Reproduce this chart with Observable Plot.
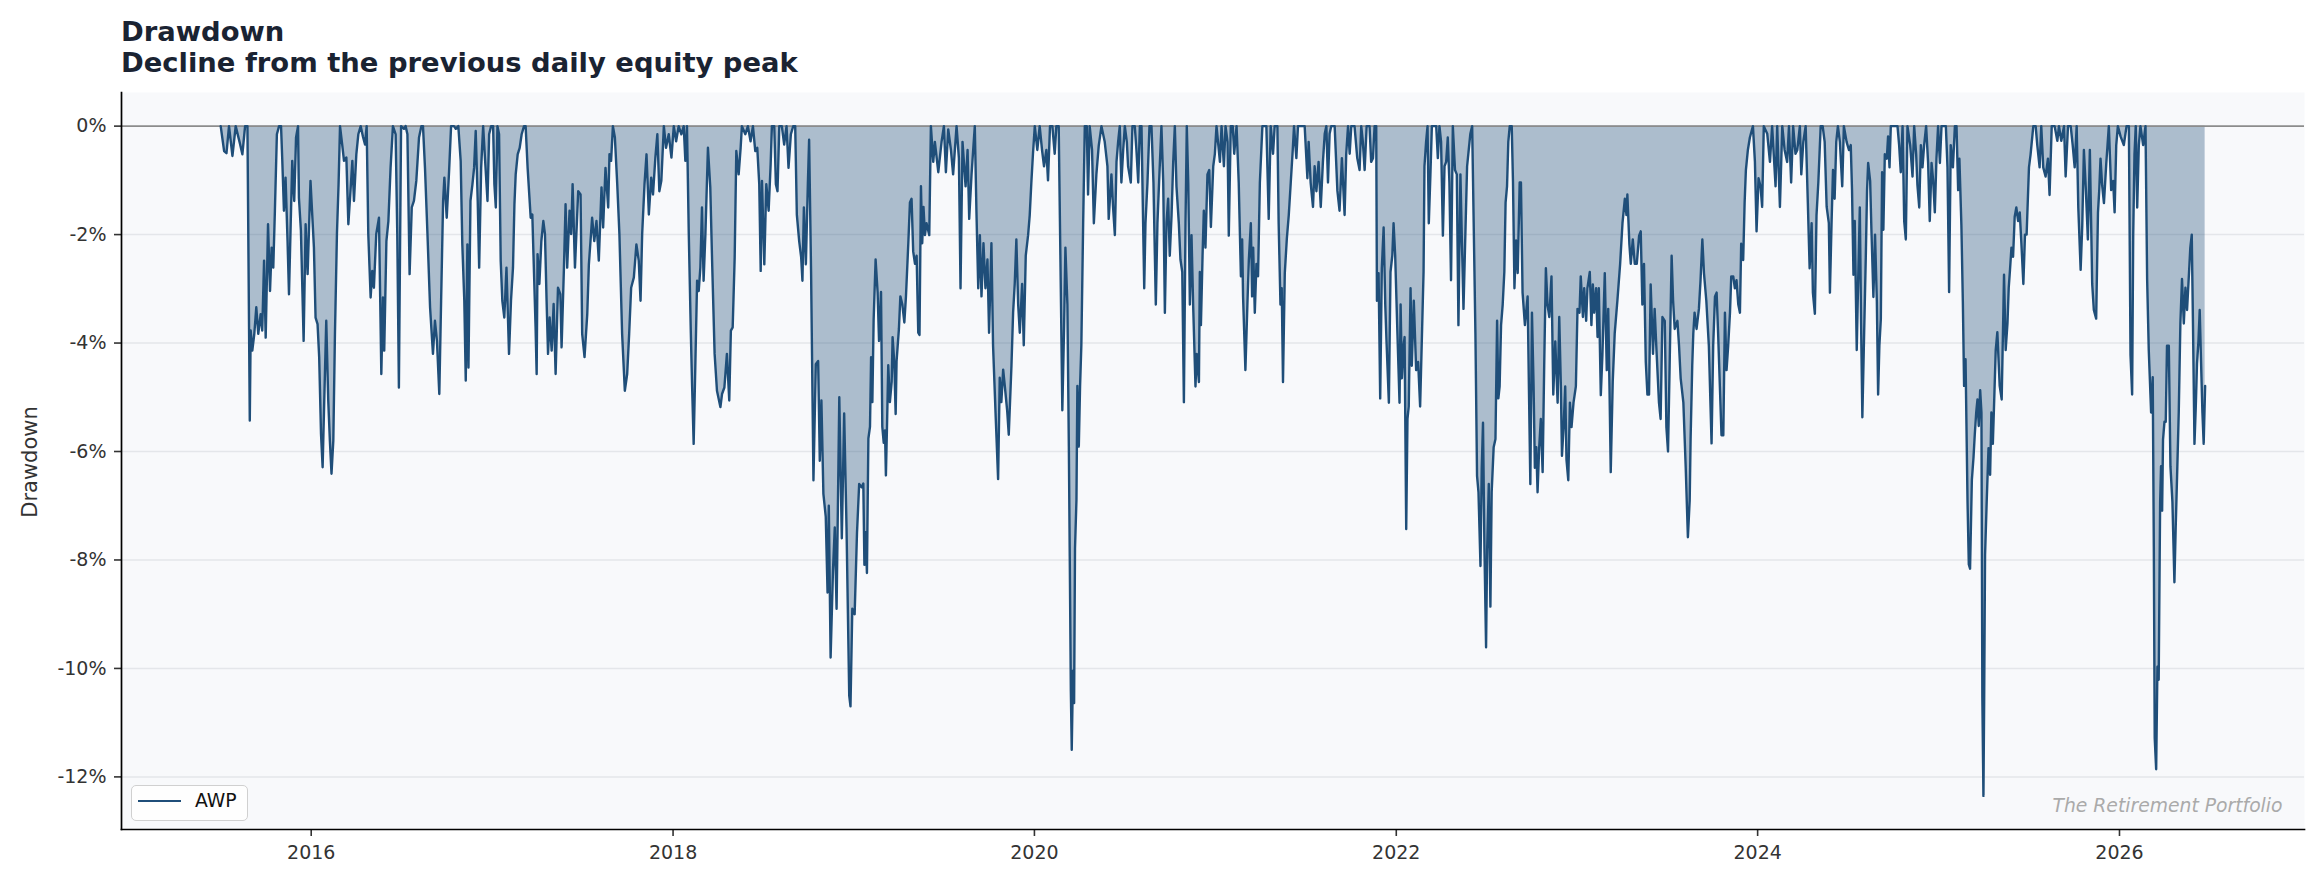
<!DOCTYPE html>
<html>
<head>
<meta charset="utf-8">
<script src="https://cdn.jsdelivr.net/npm/d3@7"></script>
<script src="https://cdn.jsdelivr.net/npm/@observablehq/plot@0.6"></script>
<style>
  html, body { margin: 0; padding: 0; background: #ffffff; }
  body { font-family: "DejaVu Sans", sans-serif; }
  #wrap { position: relative; width: 2321px; height: 884px; overflow: hidden; }
  #titles { position: relative; height: 80px; box-sizing: border-box; padding-top: 16px; padding-left: 121px;
            font-weight: bold; font-size: 27.4px; line-height: 31px; color: #1a2332; white-space: nowrap; }
  #ylabel { position: absolute; left: 30px; top: 462px; transform: translate(-50%, -50%) rotate(-90deg);
            font-size: 21px; color: #333333; white-space: nowrap; }
  #legend { position: absolute; left: 131px; top: 785px; width: 117px; height: 36px; box-sizing: border-box;
            border: 1.5px solid #d0d0d0; border-radius: 5px; background: rgba(255,255,255,0.8); }
  #legend .swatch { position: absolute; left: 6px; top: 13.5px; width: 43px; height: 2.6px; background: #1f4e79; }
  #legend .lbl { position: absolute; left: 63px; top: 5.6px; font-size: 18.75px; line-height: 18.75px; color: #111; }
</style>
</head>
<body>
<div id="wrap">
  <div id="titles">Drawdown<br>Decline from the previous daily equity peak</div>
  <div id="chart"></div>
  <div id="ylabel">Drawdown</div>
  <div id="legend"><div class="swatch"></div><span class="lbl">AWP</span></div>
</div>
<script>
// Drawdown readings: [decimal year, drawdown %]
const p2015 = [[2015.499,0],[2015.518,-0.46],[2015.531,-0.5],[2015.545,0],[2015.564,-0.55],[2015.582,0],[2015.604,-0.3],[2015.619,-0.52],[2015.634,0],[2015.647,0],[2015.656,-3.77],[2015.660,-5.43],[2015.665,-3.77],[2015.674,-4.14],[2015.685,-3.83],[2015.696,-3.34],[2015.707,-3.83],[2015.720,-3.47],[2015.729,-3.77],[2015.739,-2.48],[2015.748,-3.90],[2015.761,-1.81],[2015.772,-3.04],[2015.781,-2.24],[2015.790,-2.61],[2015.799,-1.56],[2015.810,-0.15],[2015.822,0],[2015.833,0],[2015.840,-0.64],[2015.849,-1.56],[2015.858,-0.95],[2015.869,-2.12],[2015.877,-3.10],[2015.886,-1.87],[2015.895,-0.64],[2015.906,-1.38],[2015.916,-0.21],[2015.927,0],[2015.932,-1.32],[2015.943,-1.93],[2015.958,-3.96],[2015.969,-1.81],[2015.980,-2.73],[2015.996,-1.01]];
const p2016 = [[2016.015,-2.24],[2016.024,-3.53],[2016.035,-3.65],[2016.044,-4.26],[2016.054,-5.67],[2016.063,-6.29],[2016.072,-5.06],[2016.083,-3.59],[2016.094,-5.06],[2016.103,-5.80],[2016.112,-6.41],[2016.122,-5.80],[2016.131,-3.83],[2016.142,-1.99],[2016.151,-1.07],[2016.159,0],[2016.171,-0.34],[2016.181,-0.64],[2016.194,-0.58],[2016.205,-1.81],[2016.218,-1.13],[2016.227,-0.64],[2016.236,-1.38],[2016.249,-0.52],[2016.260,-0.15],[2016.273,0],[2016.286,-0.2],[2016.297,-0.34],[2016.306,0],[2016.315,-1.99],[2016.328,-3.16],[2016.337,-2.67],[2016.346,-2.98],[2016.359,-1.99],[2016.374,-1.69],[2016.387,-4.57],[2016.396,-3.16],[2016.403,-4.14],[2016.415,-2.12],[2016.426,-1.75],[2016.438,-0.77],[2016.451,0],[2016.466,-0.15],[2016.475,-1.99],[2016.484,-4.82],[2016.496,0],[2016.512,-0.05],[2016.521,0],[2016.531,-0.15],[2016.543,-2.73],[2016.555,-1.50],[2016.567,-1.38],[2016.580,-1.01],[2016.595,-0.21],[2016.608,0],[2016.617,0],[2016.628,-0.77],[2016.641,-1.93],[2016.656,-3.34],[2016.672,-4.20],[2016.683,-3.59],[2016.694,-3.96],[2016.707,-4.94],[2016.717,-3.22],[2016.728,-1.38],[2016.735,-0.95],[2016.748,-1.69],[2016.761,-0.83],[2016.772,0],[2016.788,0],[2016.798,-0.05],[2016.812,0],[2016.825,-0.64],[2016.834,-2.18],[2016.845,-3.22],[2016.853,-4.69],[2016.862,-2.18],[2016.868,-4.45],[2016.879,-1.38],[2016.890,-1.07],[2016.899,-0.77],[2016.908,-0.09],[2016.919,-1.38],[2016.927,-2.61],[2016.938,-0.77],[2016.949,0],[2016.960,-0.64],[2016.973,-1.38],[2016.982,-0.15],[2016.993,0]];
const p2017 = [[2017.004,0],[2017.011,-1.07],[2017.019,-1.50],[2017.028,0],[2017.037,-0.15],[2017.046,-2.48],[2017.055,-3.22],[2017.066,-3.53],[2017.078,-2.61],[2017.092,-4.20],[2017.103,-3.22],[2017.114,-2.61],[2017.122,-1.44],[2017.129,-0.89],[2017.140,-0.52],[2017.151,-0.40],[2017.162,-0.15],[2017.175,0],[2017.184,0],[2017.195,-0.77],[2017.212,-1.69],[2017.221,-1.63],[2017.239,-3.71],[2017.245,-4.57],[2017.250,-2.36],[2017.260,-2.91],[2017.271,-2.12],[2017.282,-1.75],[2017.291,-1.99],[2017.300,-3.22],[2017.308,-4.20],[2017.317,-3.53],[2017.328,-4.14],[2017.339,-3.28],[2017.350,-4.57],[2017.363,-2.98],[2017.376,-3.10],[2017.383,-4.08],[2017.396,-2.61],[2017.405,-1.44],[2017.414,-2.61],[2017.427,-1.56],[2017.436,-1.99],[2017.444,-1.07],[2017.457,-2.61],[2017.475,-1.20],[2017.488,-1.26],[2017.497,-3.83],[2017.510,-4.26],[2017.525,-3.47],[2017.534,-2.55],[2017.552,-1.69],[2017.564,-2.12],[2017.576,-1.75],[2017.589,-2.48],[2017.604,-1.13],[2017.613,-1.87],[2017.626,-0.77],[2017.641,-1.50],[2017.648,-0.52],[2017.657,-0.64],[2017.667,0],[2017.678,-0.21],[2017.691,-1.07],[2017.703,-1.99],[2017.718,-3.83],[2017.733,-4.88],[2017.746,-4.57],[2017.757,-3.83],[2017.768,-2.98],[2017.783,-2.79],[2017.797,-2.18],[2017.810,-2.48],[2017.820,-3.22],[2017.829,-1.99],[2017.842,-1.07],[2017.853,-0.52],[2017.866,-1.63],[2017.879,-0.95],[2017.889,-1.26],[2017.902,-0.58],[2017.913,-0.15],[2017.924,-1.20],[2017.935,-1.01],[2017.949,0],[2017.961,-0.40],[2017.976,-0.15],[2017.991,-0.58]];
const p2018 = [[2018.004,0],[2018.017,-0.28],[2018.031,0],[2018.046,-0.15],[2018.059,0],[2018.068,-0.64],[2018.077,0],[2018.087,-1.99],[2018.098,-3.77],[2018.105,-4.75],[2018.114,-5.86],[2018.123,-4.45],[2018.133,-2.85],[2018.142,-3.04],[2018.151,-2.61],[2018.160,-1.50],[2018.169,-2.85],[2018.179,-1.99],[2018.193,-0.40],[2018.206,-1.13],[2018.216,-2.48],[2018.230,-4.20],[2018.243,-4.88],[2018.262,-5.18],[2018.271,-4.94],[2018.284,-4.82],[2018.298,-4.20],[2018.311,-5.06],[2018.320,-3.77],[2018.330,-3.71],[2018.341,-2.42],[2018.350,-0.46],[2018.363,-0.89],[2018.374,-0.40],[2018.381,0],[2018.400,-0.15],[2018.414,0],[2018.429,-0.28],[2018.442,0],[2018.455,-0.46],[2018.466,-0.40],[2018.477,-1.07],[2018.485,-2.67],[2018.492,-1.01],[2018.505,-2.55],[2018.516,-1.07],[2018.529,-1.56],[2018.540,-0.71],[2018.547,0],[2018.560,0],[2018.569,-1.07],[2018.578,-1.20],[2018.588,0],[2018.602,0],[2018.615,-0.34],[2018.628,0],[2018.639,-0.77],[2018.652,-0.15],[2018.665,0],[2018.676,0],[2018.685,-1.63],[2018.698,-2.12],[2018.709,-2.42],[2018.716,-2.85],[2018.724,-1.50],[2018.735,-2.55],[2018.746,-1.07],[2018.753,-0.25],[2018.764,-2.73],[2018.777,-6.53],[2018.790,-4.39],[2018.803,-4.33],[2018.812,-6.17],[2018.821,-5.06],[2018.832,-6.78],[2018.845,-7.2],[2018.855,-8.6],[2018.862,-7.0],[2018.872,-9.8],[2018.885,-8.2],[2018.895,-7.4],[2018.905,-8.9],[2018.920,-5.0],[2018.934,-7.6],[2018.947,-5.3],[2018.960,-7.4],[2018.975,-10.5],[2018.982,-10.7],[2018.992,-8.9]];
const p2019 = [[2019.005,-9.0],[2019.018,-7.5],[2019.030,-6.6],[2019.044,-6.66],[2019.053,-6.59],[2019.059,-8.09],[2019.066,-7.49],[2019.073,-8.24],[2019.081,-5.76],[2019.090,-5.54],[2019.096,-4.26],[2019.103,-5.09],[2019.110,-3.59],[2019.121,-2.46],[2019.132,-3.06],[2019.140,-3.96],[2019.151,-3.06],[2019.158,-5.54],[2019.166,-5.84],[2019.173,-5.61],[2019.178,-6.44],[2019.184,-5.54],[2019.191,-4.41],[2019.200,-5.09],[2019.210,-4.71],[2019.215,-3.89],[2019.224,-4.34],[2019.232,-5.31],[2019.237,-4.34],[2019.250,-3.74],[2019.258,-3.14],[2019.269,-3.29],[2019.280,-3.62],[2019.289,-3.14],[2019.302,-2.16],[2019.311,-1.41],[2019.320,-1.34],[2019.329,-2.31],[2019.339,-2.54],[2019.348,-2.39],[2019.357,-3.81],[2019.364,-3.85],[2019.372,-1.11],[2019.379,-2.16],[2019.386,-1.49],[2019.394,-2.01],[2019.403,-1.79],[2019.418,-2.01],[2019.427,0],[2019.440,-0.66],[2019.449,-0.29],[2019.468,-0.85],[2019.486,-0.29],[2019.499,0],[2019.510,-0.85],[2019.523,-0.06],[2019.538,-0.44],[2019.550,-0.89],[2019.569,0],[2019.582,-0.59],[2019.591,-2.99],[2019.602,-0.29],[2019.619,-1.11],[2019.630,-0.44],[2019.639,-1.71],[2019.652,-0.89],[2019.661,-0.44],[2019.670,0],[2019.679,-1.56],[2019.689,-2.99],[2019.698,-2.01],[2019.707,-3.14],[2019.718,-2.16],[2019.729,-2.99],[2019.740,-2.46],[2019.749,-3.81],[2019.762,-2.16],[2019.771,-4.04],[2019.786,-5.39],[2019.799,-6.51],[2019.808,-4.64],[2019.817,-5.09],[2019.827,-4.49],[2019.836,-4.79],[2019.849,-5.24],[2019.858,-5.69],[2019.873,-4.41],[2019.882,-3.44],[2019.891,-2.91],[2019.900,-2.09],[2019.910,-3.29],[2019.919,-3.81],[2019.932,-2.91],[2019.941,-4.04],[2019.952,-2.39],[2019.965,-2.01],[2019.974,-1.64],[2019.983,-1.04],[2019.992,-0.51]];
const p2020 = [[2020.002,0],[2020.016,-0.44],[2020.029,0],[2020.042,-0.44],[2020.053,-0.74],[2020.066,-0.44],[2020.075,-1.0],[2020.086,0],[2020.099,0],[2020.112,-0.51],[2020.121,0],[2020.134,0],[2020.145,-2.84],[2020.154,-5.24],[2020.164,-3.66],[2020.171,-2.24],[2020.182,-3.29],[2020.190,-5.91],[2020.195,-7.94],[2020.201,-10.41],[2020.206,-11.5],[2020.213,-10.04],[2020.219,-10.64],[2020.224,-7.79],[2020.232,-6.89],[2020.237,-4.79],[2020.245,-5.91],[2020.252,-4.79],[2020.259,-4.04],[2020.269,-1.79],[2020.278,0],[2020.289,0],[2020.296,-1.26],[2020.305,0],[2020.318,-0.44],[2020.328,-1.79],[2020.342,-0.89],[2020.355,-0.36],[2020.370,0],[2020.388,-0.29],[2020.403,-0.74],[2020.410,-1.71],[2020.425,-0.89],[2020.434,-1.49],[2020.444,-2.01],[2020.453,-0.66],[2020.462,-0.29],[2020.471,0],[2020.480,-1.04],[2020.490,-0.44],[2020.499,0],[2020.510,-0.29],[2020.517,-0.74],[2020.532,-1.04],[2020.541,0],[2020.554,0],[2020.563,-0.44],[2020.573,-1.04],[2020.582,0],[2020.591,0],[2020.598,-1.41],[2020.606,-2.99],[2020.613,-1.79],[2020.624,-1.04],[2020.635,0],[2020.646,0],[2020.657,-1.04],[2020.670,-3.29],[2020.679,-1.79],[2020.688,-1.04],[2020.701,0],[2020.711,-1.04],[2020.720,-3.44],[2020.729,-1.79],[2020.738,-1.34],[2020.747,-2.39],[2020.757,-1.64],[2020.766,-0.66],[2020.775,0],[2020.784,-1.11],[2020.797,-1.79],[2020.806,-2.46],[2020.816,-2.69],[2020.825,-5.09],[2020.834,-1.79],[2020.841,0],[2020.849,-1.04],[2020.858,-3.29],[2020.867,-2.01],[2020.876,-3.29],[2020.889,-4.80],[2020.896,-4.20],[2020.908,-4.72],[2020.913,-2.69],[2020.919,-3.67],[2020.928,-2.39],[2020.935,-1.56],[2020.944,-2.24],[2020.955,-0.89],[2020.965,-0.81],[2020.974,-1.86],[2020.987,-0.74],[2020.996,-0.51]];
const p2021 = [[2021.005,0],[2021.024,-0.66],[2021.033,0],[2021.046,-0.74],[2021.055,0],[2021.066,-0.29],[2021.073,-2.02],[2021.084,0],[2021.095,0],[2021.103,-0.51],[2021.116,0],[2021.128,-1.04],[2021.140,-2.77],[2021.147,-2.09],[2021.152,-3.14],[2021.165,-4.50],[2021.176,-3.29],[2021.184,-2.47],[2021.195,-1.79],[2021.202,-3.14],[2021.208,-2.24],[2021.217,-3.44],[2021.226,-2.54],[2021.235,-2.77],[2021.245,-1.04],[2021.259,0],[2021.281,0],[2021.294,-1.71],[2021.305,0],[2021.318,-0.51],[2021.327,0],[2021.342,0],[2021.349,-1.79],[2021.359,-3.29],[2021.366,-2.99],[2021.373,-4.72],[2021.383,-2.71],[2021.394,-2.09],[2021.405,-1.64],[2021.416,-1.04],[2021.427,-0.44],[2021.434,0],[2021.447,-0.59],[2021.456,0],[2021.475,0],[2021.493,0],[2021.508,-0.96],[2021.515,-0.29],[2021.526,-1.04],[2021.539,-1.49],[2021.548,-0.74],[2021.558,-1.20],[2021.570,-0.66],[2021.582,-1.49],[2021.594,-0.66],[2021.604,-0.14],[2021.613,0],[2021.622,-1.04],[2021.631,-0.14],[2021.640,0],[2021.659,0],[2021.674,-1.19],[2021.686,-1.56],[2021.699,-0.59],[2021.714,-1.64],[2021.723,-0.51],[2021.733,0],[2021.742,-0.51],[2021.751,0],[2021.769,0],[2021.784,-0.59],[2021.797,-0.81],[2021.806,0],[2021.815,-0.29],[2021.825,-0.81],[2021.836,0],[2021.852,0],[2021.861,-0.66],[2021.871,-0.59],[2021.880,0],[2021.889,0],[2021.893,-3.22],[2021.902,-2.71],[2021.911,-5.02],[2021.920,-2.62],[2021.930,-1.87],[2021.939,-3.29],[2021.946,-3.97],[2021.959,-5.10],[2021.968,-2.69],[2021.978,-2.39],[2021.985,-1.79],[2021.994,-2.39]];
const p2022 = [[2022.005,-3.67],[2022.018,-5.10],[2022.024,-3.29],[2022.031,-4.65],[2022.040,-4.05],[2022.046,-3.89],[2022.055,-7.43],[2022.062,-5.40],[2022.069,-5.17],[2022.079,-2.99],[2022.086,-4.42],[2022.097,-3.22],[2022.110,-4.50],[2022.121,-4.35],[2022.132,-5.17],[2022.143,-3.74],[2022.151,-2.69],[2022.156,-0.74],[2022.165,-0.29],[2022.173,0],[2022.180,-1.79],[2022.189,-0.89],[2022.197,0],[2022.221,0],[2022.230,-0.59],[2022.239,0],[2022.248,-0.29],[2022.258,-2.02],[2022.267,-0.74],[2022.276,-0.66],[2022.285,-0.21],[2022.294,-1.04],[2022.303,-2.84],[2022.313,0],[2022.325,-0.81],[2022.335,-0.89],[2022.344,-3.67],[2022.355,-0.89],[2022.362,-1.94],[2022.372,-3.37],[2022.381,-2.17],[2022.392,-0.74],[2022.401,-0.44],[2022.410,-0.14],[2022.420,0],[2022.432,-2.54],[2022.438,-3.82],[2022.447,-6.45],[2022.455,-6.75],[2022.466,-8.11],[2022.473,-6.30],[2022.480,-5.47],[2022.488,-7.80],[2022.497,-9.61],[2022.503,-7.80],[2022.512,-6.60],[2022.521,-8.86],[2022.528,-6.75],[2022.539,-5.92],[2022.549,-5.77],[2022.558,-3.59],[2022.565,-5.02],[2022.572,-4.80],[2022.580,-3.67],[2022.589,-3.29],[2022.598,-2.69],[2022.605,-1.41],[2022.613,-1.11],[2022.620,-0.29],[2022.628,0],[2022.639,0],[2022.646,-1.04],[2022.654,-2.99],[2022.663,-2.11],[2022.672,-2.71],[2022.683,-1.04],[2022.690,-1.04],[2022.699,-3.07],[2022.712,-3.67],[2022.727,-3.14],[2022.734,-4.80],[2022.742,-6.60],[2022.751,-3.44],[2022.760,-4.80],[2022.767,-6.30],[2022.775,-5.92],[2022.782,-6.75],[2022.791,-5.92],[2022.800,-5.40],[2022.810,-6.38],[2022.819,-4.35],[2022.828,-2.62],[2022.837,-3.29],[2022.847,-3.52],[2022.859,-2.77],[2022.869,-4.95],[2022.880,-3.97],[2022.893,-5.10],[2022.902,-3.52],[2022.911,-4.80],[2022.917,-6.08],[2022.926,-5.55],[2022.935,-4.80],[2022.942,-6.15],[2022.952,-6.53],[2022.961,-5.10],[2022.970,-5.55],[2022.981,-5.10],[2022.994,-4.80]];
const p2023 = [[2023.003,-3.37],[2023.014,-3.44],[2023.021,-2.77],[2023.033,-3.52],[2023.040,-2.99],[2023.051,-3.59],[2023.058,-2.99],[2023.071,-2.69],[2023.080,-3.67],[2023.088,-2.92],[2023.095,-3.44],[2023.106,-2.99],[2023.114,-3.89],[2023.121,-2.99],[2023.132,-4.96],[2023.141,-4.21],[2023.154,-2.71],[2023.165,-4.50],[2023.173,-3.37],[2023.180,-4.80],[2023.187,-6.38],[2023.198,-4.72],[2023.209,-3.82],[2023.224,-3.21],[2023.239,-2.54],[2023.252,-1.79],[2023.265,-1.34],[2023.274,-1.64],[2023.279,-1.26],[2023.290,-2.17],[2023.298,-2.54],[2023.309,-2.09],[2023.320,-2.54],[2023.331,-2.54],[2023.344,-2.02],[2023.353,-1.94],[2023.362,-3.29],[2023.371,-2.54],[2023.381,-4.35],[2023.390,-4.95],[2023.399,-4.95],[2023.408,-2.92],[2023.421,-4.20],[2023.430,-3.37],[2023.439,-4.05],[2023.454,-5.10],[2023.463,-5.40],[2023.473,-3.52],[2023.486,-3.59],[2023.495,-5.55],[2023.504,-6.00],[2023.513,-4.42],[2023.524,-2.39],[2023.532,-3.21],[2023.541,-3.74],[2023.556,-3.59],[2023.565,-4.05],[2023.574,-4.65],[2023.589,-5.10],[2023.602,-6.30],[2023.614,-7.58],[2023.624,-6.90],[2023.629,-5.77],[2023.638,-4.42],[2023.644,-3.82],[2023.651,-3.44],[2023.662,-3.74],[2023.675,-3.37],[2023.684,-2.84],[2023.694,-2.09],[2023.703,-2.71],[2023.716,-3.22],[2023.730,-4.05],[2023.745,-5.85],[2023.754,-4.05],[2023.764,-3.14],[2023.773,-3.07],[2023.782,-3.89],[2023.791,-4.80],[2023.800,-5.70],[2023.810,-5.70],[2023.819,-3.44],[2023.828,-4.50],[2023.837,-4.05],[2023.847,-3.44],[2023.854,-2.77],[2023.865,-2.77],[2023.874,-2.99],[2023.883,-2.84],[2023.893,-3.29],[2023.902,-3.44],[2023.909,-2.17],[2023.920,-2.47],[2023.928,-1.41],[2023.935,-0.81],[2023.946,-0.44],[2023.957,-0.21],[2023.974,0],[2023.985,-0.66],[2023.994,-1.94]];
const p2024 = [[2024.005,-0.96],[2024.016,-1.11],[2024.025,-1.49],[2024.034,0],[2024.053,-0.14],[2024.068,-0.66],[2024.080,0],[2024.099,-1.11],[2024.108,0],[2024.123,-1.49],[2024.136,0],[2024.149,-0.44],[2024.163,-0.66],[2024.173,0],[2024.185,-1.04],[2024.196,0],[2024.209,-0.51],[2024.219,-0.44],[2024.233,0],[2024.241,-0.89],[2024.252,-0.29],[2024.265,0],[2024.277,-1.41],[2024.287,-2.62],[2024.298,-1.79],[2024.305,-3.07],[2024.316,-3.46],[2024.325,-1.64],[2024.335,-1.04],[2024.348,0],[2024.359,0],[2024.370,-0.29],[2024.381,-1.49],[2024.393,-1.79],[2024.399,-3.07],[2024.408,-1.79],[2024.416,-0.81],[2024.425,-1.34],[2024.434,-0.29],[2024.443,0],[2024.454,-0.29],[2024.467,-1.11],[2024.476,0],[2024.491,-0.29],[2024.504,-0.44],[2024.514,-0.35],[2024.521,-1.18],[2024.529,-2.74],[2024.536,-1.75],[2024.547,-4.13],[2024.555,-2.82],[2024.564,-1.50],[2024.571,-3.64],[2024.578,-5.37],[2024.588,-3.80],[2024.597,-2.41],[2024.604,-1.18],[2024.610,-0.68],[2024.621,-1.01],[2024.628,-1.91],[2024.639,-3.15],[2024.648,-2.00],[2024.658,-3.23],[2024.665,-4.95],[2024.672,-4.05],[2024.680,-3.56],[2024.687,-0.85],[2024.694,-1.91],[2024.702,-0.52],[2024.713,-0.60],[2024.720,-0.19],[2024.728,-0.76],[2024.735,0],[2024.753,0],[2024.772,0],[2024.781,-0.35],[2024.790,-0.85],[2024.800,0],[2024.809,-1.75],[2024.818,-2.09],[2024.827,0],[2024.842,-0.35],[2024.855,-0.93],[2024.864,0],[2024.875,-0.52],[2024.882,-1.09],[2024.892,-1.50],[2024.901,-0.35],[2024.910,-0.76],[2024.919,-0.35],[2024.930,0],[2024.941,-0.68],[2024.950,-1.75],[2024.960,-0.68],[2024.969,-1.01],[2024.978,-1.59],[2024.987,-0.60],[2024.996,0]];
const p2025 = [[2025.006,-0.68],[2025.015,0],[2025.039,0],[2025.048,-0.76],[2025.057,-3.06],[2025.066,-0.35],[2025.078,-0.76],[2025.089,0],[2025.098,0],[2025.107,-1.18],[2025.114,-0.60],[2025.125,-1.83],[2025.133,-3.23],[2025.140,-4.79],[2025.148,-4.30],[2025.159,-6.93],[2025.166,-8.08],[2025.173,-8.16],[2025.183,-6.52],[2025.192,-6.11],[2025.199,-5.69],[2025.207,-5.28],[2025.214,-5.04],[2025.221,-5.53],[2025.229,-4.87],[2025.236,-5.28],[2025.241,-10.54],[2025.247,-12.35],[2025.251,-10.62],[2025.256,-7.91],[2025.265,-6.93],[2025.275,-5.94],[2025.284,-6.43],[2025.291,-5.28],[2025.299,-5.86],[2025.306,-5.12],[2025.315,-4.13],[2025.324,-3.80],[2025.337,-4.79],[2025.348,-5.04],[2025.356,-3.64],[2025.361,-2.74],[2025.370,-4.13],[2025.380,-3.64],[2025.387,-2.98],[2025.394,-2.65],[2025.402,-2.24],[2025.411,-2.41],[2025.420,-1.67],[2025.429,-1.50],[2025.439,-1.75],[2025.448,-1.59],[2025.457,-2.16],[2025.468,-2.91],[2025.477,-2.00],[2025.486,-2.00],[2025.499,-0.76],[2025.508,-0.52],[2025.523,0],[2025.536,0],[2025.545,-0.35],[2025.558,-0.76],[2025.567,0],[2025.578,-0.76],[2025.591,-0.93],[2025.604,-0.60],[2025.613,-1.27],[2025.625,0],[2025.641,0],[2025.656,-0.27],[2025.665,0],[2025.678,-0.27],[2025.693,0],[2025.702,-0.93],[2025.715,0],[2025.730,0],[2025.741,-0.35],[2025.752,-0.76],[2025.763,0],[2025.772,-1.50],[2025.785,-2.65],[2025.794,-1.83],[2025.803,-0.44],[2025.814,-1.18],[2025.825,-2.09],[2025.836,-0.44],[2025.849,-2.91],[2025.858,-3.39],[2025.871,-3.55],[2025.881,-1.59],[2025.888,-1.18],[2025.895,-0.60],[2025.904,-1.09],[2025.914,-1.42],[2025.927,-0.68],[2025.941,0],[2025.954,-1.18],[2025.965,-1.01],[2025.973,-1.59],[2025.982,-0.35],[2025.991,0]];
const p2026 = [[2026.006,-0.19],[2026.024,-0.35],[2026.039,0],[2026.052,0],[2026.061,-4.22],[2026.070,-4.95],[2026.076,-2.00],[2026.083,-0.52],[2026.090,0],[2026.098,-1.50],[2026.107,-0.35],[2026.116,0],[2026.131,-0.35],[2026.144,0],[2026.153,-2.82],[2026.162,-4.13],[2026.175,-5.28],[2026.184,-4.63],[2026.190,-7.75],[2026.195,-11.28],[2026.203,-11.86],[2026.210,-9.97],[2026.217,-10.21],[2026.225,-6.93],[2026.230,-6.27],[2026.236,-7.09],[2026.241,-5.78],[2026.249,-5.45],[2026.256,-5.45],[2026.263,-4.05],[2026.273,-4.05],[2026.282,-6.27],[2026.293,-6.93],[2026.304,-8.41],[2026.311,-7.42],[2026.319,-6.43],[2026.328,-5.28],[2026.337,-3.64],[2026.346,-2.82],[2026.356,-3.64],[2026.365,-2.98],[2026.374,-3.39],[2026.383,-2.82],[2026.392,-2.24],[2026.400,-2.00],[2026.407,-3.72],[2026.415,-5.86],[2026.422,-5.20],[2026.429,-4.38],[2026.437,-3.97],[2026.444,-3.39],[2026.451,-4.30],[2026.459,-5.28],[2026.466,-5.86],[2026.474,-4.79]];

const seriesName = "AWP";
const xTickYears = [2016, 2018, 2020, 2022, 2024, 2026];
const yTicks = [0, -2, -4, -6, -8, -10, -12];
const xDomainYears = [2014.95, 2027.024];
const yDomain = [-12.97, 0.62];
const watermark = "The Retirement Portfolio";

function toDate(y) {
  const yr = Math.floor(y);
  const a = Date.UTC(yr, 0, 1), b = Date.UTC(yr + 1, 0, 1);
  return new Date(a + (y - yr) * (b - a));
}

const data = [].concat(p2015, p2016, p2017, p2018, p2019, p2020, p2021, p2022, p2023, p2024, p2025, p2026)
  .map(([t, v]) => ({date: toDate(t), dd: v, series: seriesName}));

const lineColor = "#1f4e79";

const chart = Plot.plot({
  width: 2321,
  height: 804,
  marginTop: 12,
  marginBottom: 55,
  marginLeft: 121,
  marginRight: 17,
  style: {fontFamily: "DejaVu Sans, sans-serif", fontSize: "19px", color: "#333333", background: "transparent", overflow: "visible"},
  x: {type: "utc", domain: xDomainYears.map(toDate)},
  y: {domain: yDomain},
  marks: [
    Plot.frame({fill: "#f8f9fb", stroke: null}),
    Plot.gridY(yTicks.filter(d => d !== 0), {stroke: "#e4e6ea", strokeOpacity: 1, strokeWidth: 1.5}),
    Plot.areaY(data, {x: "date", y: "dd", fill: lineColor, fillOpacity: 0.35}),
    Plot.ruleY([0], {stroke: "#8c8c8c", strokeWidth: 1.6}),
    Plot.lineY(data, {x: "date", y: "dd", stroke: lineColor, strokeWidth: 2.4, strokeLinejoin: "round"}),
    Plot.axisY({ticks: yTicks, tickFormat: d => `${d}%`, tickSize: 7, tickPadding: 8, label: null, stroke: "#333", strokeWidth: 1.6, fill: "#333", fontSize: 19}),
    Plot.axisX({ticks: xTickYears.map(y => new Date(Date.UTC(y, 0, 1))), tickFormat: d3.utcFormat("%Y"), tickSize: 7, tickPadding: 9, label: null, stroke: "#333", strokeWidth: 1.6, fill: "#333", fontSize: 19}),
    Plot.frame({anchor: "left", stroke: "#000", strokeWidth: 1.7}),
    Plot.frame({anchor: "bottom", stroke: "#000", strokeWidth: 1.7}),
    Plot.text([watermark], {text: d => d, frameAnchor: "bottom-right", dx: -22, dy: -18, lineAnchor: "bottom", textAnchor: "end", fontStyle: "italic", fill: "#aaaaaa", fontSize: 18.75})
  ]
});

document.getElementById("chart").appendChild(chart);
</script>
</body>
</html>
